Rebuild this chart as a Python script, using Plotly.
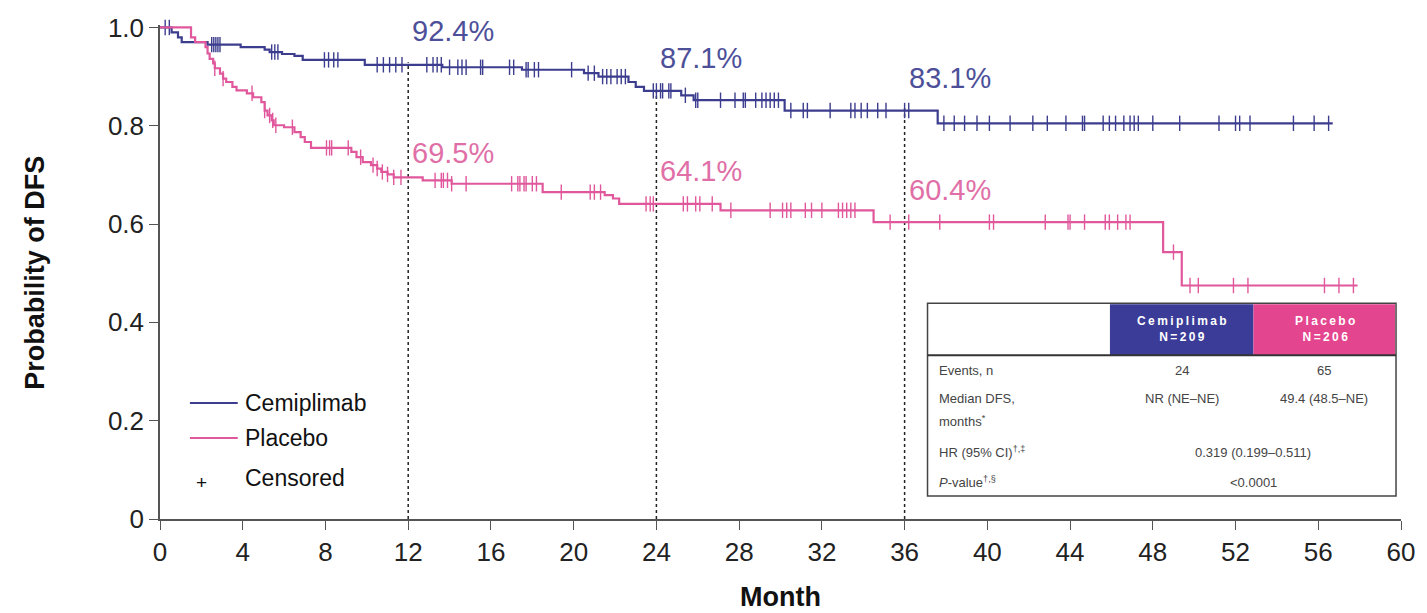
import numpy as np
import plotly.graph_objects as go

# ---------------- data ----------------
cemi_times = [0, 0.56, 0.87, 1.05, 2.3, 3.9, 5.06, 5.3, 5.9, 6.5, 6.9, 9.9, 13.65, 17.5, 20.5, 21.2,
              22.65, 23.0, 23.4, 25.2, 25.8, 30.2, 37.6]
cemi_surv = [1.0, 0.99, 0.98, 0.97, 0.965, 0.96, 0.955, 0.95, 0.946, 0.942, 0.934, 0.924, 0.919, 0.914,
             0.907, 0.9, 0.889, 0.879, 0.871, 0.862, 0.852, 0.831, 0.805]
cemi_end = 56.7
cemi_censor = [0.25, 0.45, 2.5, 2.6, 2.7, 2.8, 2.9, 5.4, 5.55, 5.7, 7.95, 8.15, 8.4, 8.6, 10.5, 10.8, 11.1,
               11.4, 11.7, 12.9, 13.2, 13.4, 13.6, 14.0, 14.4, 14.6, 14.8, 15.5, 15.6, 16.9, 17.1, 17.7,
               17.8, 18.1, 18.3, 19.9, 20.7, 21.0, 21.4, 21.6, 21.8, 22.1, 22.3, 22.5, 23.85, 24.0, 24.2,
               24.3, 24.6, 24.7, 25.4, 25.9, 26.0, 27.1, 27.8, 28.2, 28.3, 28.8, 29.1, 29.3, 29.5, 29.7,
               29.9, 30.5, 31.1, 31.3, 32.4, 33.4, 33.6, 33.9, 34.2, 34.7, 35.1, 36.0, 36.2, 37.9, 38.4,
               38.9, 39.5, 40.1, 41.1, 42.2, 42.9, 43.8, 44.6, 44.7, 45.6, 45.9, 46.2, 46.6, 46.9, 47.1,
               47.3, 48.0, 49.3, 51.2, 52.0, 52.2, 52.7, 54.8, 55.8, 56.5]

plac_times = [0, 1.5, 1.7, 2.2, 2.3, 2.4, 2.57, 2.65, 2.9, 3.05, 3.2, 3.5, 3.7, 4.2, 4.5, 4.9, 5.06, 5.2,
              5.4, 5.5, 6.0, 6.5, 6.8, 7.0, 7.3, 9.25, 9.5, 9.8, 10.2, 10.5, 10.7, 11.0, 11.3, 12.7, 14.1,
              18.5, 21.5, 21.9, 22.2, 27.1, 34.5, 48.5, 49.4]
plac_surv = [1.0, 0.98, 0.97, 0.96, 0.947, 0.936, 0.927, 0.917, 0.906, 0.896, 0.889, 0.879, 0.872, 0.866,
             0.858, 0.848, 0.831, 0.821, 0.811, 0.801, 0.797, 0.787, 0.777, 0.767, 0.755, 0.747, 0.736,
             0.726, 0.72, 0.713, 0.706, 0.701, 0.695, 0.689, 0.682, 0.665, 0.659, 0.652, 0.641, 0.628,
             0.604, 0.543, 0.475]
plac_end = 57.9
plac_censor = [2.65, 3.05, 4.45, 5.06, 5.3, 5.45, 5.6, 6.4, 8.05, 8.2, 8.3, 9.1, 9.7, 10.3, 10.5, 10.75,
               11.0, 11.3, 11.65, 13.3, 13.6, 13.7, 13.9, 14.1, 14.8, 17.0, 17.3, 17.4, 17.6, 17.7, 18.0,
               18.2, 19.4, 20.8, 21.0, 21.3, 23.5, 23.7, 23.85, 25.3, 25.5, 25.9, 26.1, 26.7, 27.6, 29.5,
               30.1, 30.3, 30.5, 31.2, 31.5, 32.0, 32.8, 33.0, 33.2, 33.4, 33.6, 35.3, 36.2, 37.7, 40.1,
               40.3, 42.8, 43.9, 44.0, 44.7, 45.7, 45.9, 46.3, 46.7, 46.9, 49.0, 49.8, 50.2, 51.9, 52.6,
               56.3, 57.0, 57.7]

landmark_months = [12, 24, 36]
cemi_landmark = [0.924, 0.871, 0.831]
plac_landmark = [0.695, 0.641, 0.604]
cemi_labels = ["92.4%", "87.1%", "83.1%"]
plac_labels = ["69.5%", "64.1%", "60.4%"]

x_ticks = list(range(0, 61, 4))
y_ticks = [0, 0.2, 0.4, 0.6, 0.8, 1.0]
y_ticktext = ["0", "0.2", "0.4", "0.6", "0.8", "1.0"]

# ---------------- styling ----------------
BLUE = "#3c3d8e"
PINK = "#e0579c"
BLUE_TXT = "#4d5099"
PINK_TXT = "#e06fa7"
FONT = "Liberation Sans, Arial, sans-serif"

W, H = 1427, 613
ML, MR, MT, MB = 160, 22, 24.5, 94
PW, PH = W - ML - MR, H - MT - MB


def px_x(px):
    return (px - ML) / PW


def px_y(py):
    return (H - MB - py) / PH


def step_at(times, surv, t):
    idx = np.searchsorted(np.array(times), np.array(t), side="right") - 1
    return np.array(surv)[idx]


def spaced(s):
    return "\u2009".join(list(s))


def note(px, py, text, font, xanchor="center", **kw):
    fig.add_annotation(xref="paper", yref="paper", x=px_x(px), y=px_y(py), text=text, showarrow=False,
                       xanchor=xanchor, yanchor="middle", font=font, **kw)


fig = go.Figure()

for times, surv, end, cens, col, name in [
    (cemi_times, cemi_surv, cemi_end, cemi_censor, BLUE, "Cemiplimab"),
    (plac_times, plac_surv, plac_end, plac_censor, PINK, "Placebo"),
]:
    fig.add_trace(go.Scatter(x=list(times) + [end], y=list(surv) + [surv[-1]], mode="lines",
                             line=dict(color=col, width=2.2, shape="hv"), name=name, showlegend=False))
    fig.add_trace(go.Scatter(x=cens, y=step_at(times, surv, cens), mode="markers",
                             marker=dict(symbol="line-ns", size=11, line=dict(color=col, width=1.4)),
                             showlegend=False, cliponaxis=False))

# dashed landmark lines
for m, v in zip(landmark_months, cemi_landmark):
    fig.add_shape(type="line", x0=m, x1=m, y0=0, y1=v + 0.005, xref="x", yref="y",
                  line=dict(color="#222", width=1.5, dash="3px,3px"), layer="below")

# landmark labels
cemi_label_y = [0.992, 0.937, 0.898]
plac_label_y = [0.744, 0.709, 0.669]
for m, t1, y1, t2, y2 in zip(landmark_months, cemi_labels, cemi_label_y, plac_labels, plac_label_y):
    fig.add_annotation(x=m, y=y1, xref="x", yref="y", text=t1, showarrow=False, xanchor="left",
                       yanchor="middle", xshift=2, font=dict(family=FONT, size=29, color=BLUE_TXT))
    fig.add_annotation(x=m, y=y2, xref="x", yref="y", text=t2, showarrow=False, xanchor="left",
                       yanchor="middle", xshift=2, font=dict(family=FONT, size=29, color=PINK_TXT))

# custom legend
leg_font = dict(family=FONT, size=23, color="#111")
for py, col, txt in [(403, BLUE, "Cemiplimab"), (438, PINK, "Placebo")]:
    fig.add_shape(type="line", xref="paper", yref="paper", x0=px_x(190), x1=px_x(238),
                  y0=px_y(py), y1=px_y(py), line=dict(color=col, width=2))
    note(243, py, txt, leg_font, xanchor="left")
note(202, 482, "+", dict(family=FONT, size=19, color="#111"))
note(243, 478, "Censored", leg_font, xanchor="left")

# table
TX0, TX1, TXB, TXP = 930, 1400, 1113, 1257
TY0, TYH, TY1 = 303, 355, 496
fig.add_shape(type="rect", xref="paper", yref="paper", x0=px_x(TX0), x1=px_x(TX1), y0=px_y(TY1),
              y1=px_y(TY0), fillcolor="white", line=dict(color="#444", width=1.5))
fig.add_shape(type="rect", xref="paper", yref="paper", x0=px_x(TXB), x1=px_x(TXP), y0=px_y(TYH),
              y1=px_y(TY0 + 1), fillcolor="#3b3b98", line=dict(width=0))
fig.add_shape(type="rect", xref="paper", yref="paper", x0=px_x(TXP), x1=px_x(TX1 - 1), y0=px_y(TYH),
              y1=px_y(TY0 + 1), fillcolor="#e4458f", line=dict(width=0))
fig.add_shape(type="line", xref="paper", yref="paper", x0=px_x(TX0), x1=px_x(TX1), y0=px_y(TYH),
              y1=px_y(TYH), line=dict(color="#333", width=2))

hdr_font = dict(family=FONT, size=12, color="white")
note((TXB + TXP) / 2, 329, "<b>" + spaced("Cemiplimab") + "</b><br><b>" + spaced("N=209") + "</b>", hdr_font)
note((TXP + TX1) / 2, 329, "<b>" + spaced("Placebo") + "</b><br><b>" + spaced("N=206") + "</b>", hdr_font)

row_font = dict(family=FONT, size=13, color="#444")
rows = [
    (370, "Events, n", "24", "65", None),
    (398, "Median DFS,", "NR (NE–NE)", "49.4 (48.5–NE)", None),
    (421, "months<sup>*</sup>", None, None, None),
    (452, "HR (95% CI)<sup>†,‡</sup>", None, None, "0.319 (0.199–0.511)"),
    (482, "<i>P</i>-value<sup>†,§</sup>", None, None, "&lt;0.0001"),
]
for py, lab, v1, v2, vc in rows:
    note(940, py, lab, row_font, xanchor="left")
    if v1:
        note(1185, py, v1, row_font)
    if v2:
        note(1328, py, v2, row_font)
    if vc:
        note(1257, py, vc, row_font)

# axis titles
note(783, 597, "<b>Month</b>", dict(family=FONT, size=27, color="#111"))
note(35, 272, "<b>Probability of DFS</b>", dict(family=FONT, size=27, color="#111"), textangle=-90)

axis_common = dict(showgrid=False, zeroline=False, showline=True, linecolor="#555", linewidth=1.5,
                   ticks="outside", ticklen=9, tickwidth=1.3, tickcolor="#555",
                   tickfont=dict(family=FONT, size=26, color="#222"))
fig.update_xaxes(range=[0, 60], tickvals=x_ticks, **axis_common)
fig.update_yaxes(range=[0, 1.005], tickvals=y_ticks, ticktext=y_ticktext, **axis_common)

fig.update_layout(width=W, height=H, margin=dict(l=ML, r=MR, t=MT, b=MB),
                  plot_bgcolor="white", paper_bgcolor="white", showlegend=False,
                  font=dict(family=FONT))

fig.write_html("out.html", config={"displayModeBar": False},
               post_script="document.body.style.margin='0';document.body.style.overflow='hidden';")
